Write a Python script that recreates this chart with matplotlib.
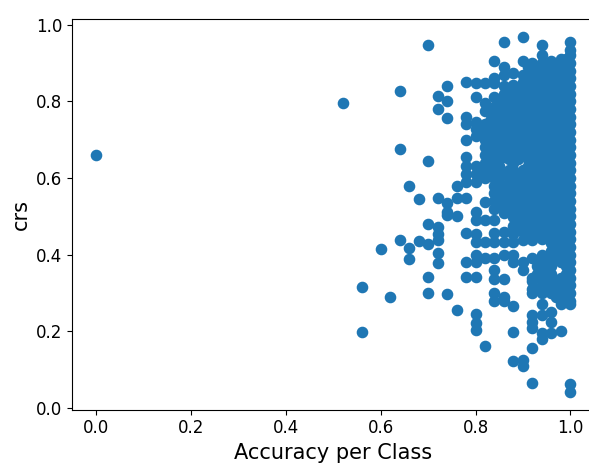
import matplotlib
matplotlib.use("Agg")
import matplotlib.pyplot as plt

# Sparse points (accuracy per class, crs)
sparse_acc = [0.00, 0.52, 0.56, 0.56, 0.60, 0.62,
              0.64, 0.64, 0.64, 0.66, 0.66, 0.66, 0.68, 0.68,
              0.70, 0.70, 0.70, 0.70, 0.70, 0.70,
              0.72, 0.72, 0.72, 0.72, 0.72, 0.72, 0.72, 0.72,
              0.74, 0.74, 0.74, 0.74, 0.74, 0.74, 0.74,
              0.76, 0.76, 0.76, 0.76]
sparse_crs = [0.66, 0.796, 0.316, 0.197, 0.415, 0.29,
              0.827, 0.675, 0.438, 0.58, 0.416, 0.388, 0.545, 0.435,
              0.947, 0.644, 0.48, 0.427, 0.342, 0.30,
              0.814, 0.78, 0.548, 0.473, 0.455, 0.438, 0.403, 0.377,
              0.841, 0.802, 0.757, 0.535, 0.512, 0.503, 0.297,
              0.579, 0.548, 0.50, 0.255]

# Dense columns: crs values observed at each accuracy level
crs_078 = [0.85, 0.76, 0.74, 0.70, 0.655, 0.63, 0.61, 0.59, 0.548, 0.457, 0.38, 0.342]
crs_080 = [0.848, 0.812, 0.745, 0.728, 0.71, 0.63, 0.61, 0.59, 0.51, 0.49, 0.455,
           0.432, 0.40, 0.38, 0.342, 0.246, 0.222, 0.203]
crs_082 = [0.848, 0.795, 0.775, 0.74, 0.72, 0.70, 0.68, 0.66, 0.64, 0.62, 0.60,
           0.538, 0.49, 0.434, 0.39, 0.16]
crs_083 = [0.77, 0.75, 0.73, 0.71, 0.69, 0.67, 0.65, 0.63, 0.61]
crs_084 = [0.906, 0.86, 0.848, 0.812, 0.785, 0.76, 0.74, 0.72, 0.70, 0.68, 0.66,
           0.64, 0.62, 0.60, 0.58, 0.56, 0.54, 0.52, 0.49, 0.456, 0.434, 0.39,
           0.36, 0.335, 0.30, 0.28]
crs_085 = [0.79, 0.77, 0.75, 0.73, 0.71, 0.69, 0.67, 0.65, 0.63, 0.61, 0.59,
           0.57, 0.55, 0.53]
crs_086 = [0.956, 0.889, 0.868, 0.84, 0.82, 0.80, 0.78, 0.76, 0.74, 0.72, 0.70,
           0.68, 0.655, 0.61, 0.575, 0.55, 0.53, 0.508, 0.46, 0.434, 0.40,
           0.335, 0.29, 0.28]
crs_087 = [0.83, 0.81, 0.79, 0.77, 0.75, 0.73, 0.71, 0.69, 0.67, 0.65, 0.62,
           0.59, 0.57, 0.55, 0.53]
crs_088 = [0.873, 0.843, 0.82, 0.80, 0.78, 0.76, 0.74, 0.72, 0.70, 0.68, 0.66,
           0.64, 0.62, 0.60, 0.58, 0.56, 0.54, 0.52, 0.499, 0.475, 0.455, 0.434,
           0.40, 0.38, 0.266, 0.197, 0.122]
crs_089 = [0.83, 0.81, 0.79, 0.77, 0.75, 0.73, 0.71, 0.69, 0.67, 0.65, 0.61,
           0.59, 0.57, 0.55, 0.53, 0.51, 0.49, 0.47]
crs_090 = [0.968, 0.906, 0.87, 0.85, 0.834, 0.81, 0.79, 0.77, 0.75, 0.73, 0.71,
           0.69, 0.665, 0.62, 0.60, 0.58, 0.56, 0.54, 0.52, 0.50, 0.48, 0.46,
           0.438, 0.38, 0.36, 0.125, 0.11]
crs_091 = [0.89, 0.87, 0.85, 0.83, 0.81, 0.79, 0.77, 0.75, 0.73, 0.71, 0.69,
           0.67, 0.65, 0.63, 0.61, 0.59, 0.57, 0.55, 0.53, 0.51, 0.49, 0.47, 0.45]
crs_092 = [0.90, 0.88, 0.86, 0.84, 0.82, 0.80, 0.78, 0.76, 0.74, 0.72, 0.70,
           0.68, 0.66, 0.64, 0.62, 0.60, 0.58, 0.56, 0.54, 0.52, 0.50, 0.48,
           0.46, 0.438, 0.39, 0.34, 0.33, 0.31, 0.30, 0.242, 0.225, 0.207,
           0.155, 0.064]
crs_093 = [0.89, 0.87, 0.85, 0.83, 0.81, 0.79, 0.77, 0.75, 0.73, 0.71, 0.69,
           0.67, 0.65, 0.63, 0.61, 0.59, 0.57, 0.55, 0.53, 0.51, 0.49, 0.47,
           0.45, 0.37, 0.35, 0.31]
crs_094 = [0.947, 0.92, 0.90, 0.88, 0.86, 0.84, 0.82, 0.80, 0.78, 0.76, 0.74,
           0.72, 0.70, 0.68, 0.66, 0.64, 0.62, 0.60, 0.58, 0.56, 0.54, 0.52,
           0.50, 0.48, 0.46, 0.44, 0.40, 0.38, 0.36, 0.33, 0.30, 0.271, 0.242,
           0.194, 0.179]
crs_095 = [0.89, 0.87, 0.85, 0.83, 0.81, 0.79, 0.77, 0.75, 0.73, 0.71, 0.69,
           0.67, 0.65, 0.63, 0.61, 0.59, 0.57, 0.55, 0.53, 0.51, 0.49, 0.47,
           0.45, 0.39, 0.37, 0.35, 0.33, 0.31]
crs_096 = [0.905, 0.89, 0.87, 0.85, 0.83, 0.81, 0.79, 0.77, 0.75, 0.73, 0.71,
           0.69, 0.67, 0.65, 0.63, 0.61, 0.59, 0.57, 0.55, 0.53, 0.51, 0.49,
           0.47, 0.45, 0.43, 0.41, 0.39, 0.37, 0.35, 0.33, 0.31, 0.30, 0.25,
           0.225, 0.194]
crs_097 = [0.89, 0.87, 0.85, 0.83, 0.81, 0.79, 0.77, 0.75, 0.73, 0.71, 0.69,
           0.67, 0.65, 0.63, 0.61, 0.59, 0.57, 0.55, 0.53, 0.51, 0.49, 0.47,
           0.45, 0.43, 0.41, 0.39, 0.33, 0.31, 0.29]
crs_098 = [0.91, 0.89, 0.87, 0.85, 0.83, 0.81, 0.79, 0.77, 0.75, 0.73, 0.71,
           0.69, 0.67, 0.65, 0.63, 0.61, 0.59, 0.57, 0.55, 0.53, 0.51, 0.49,
           0.47, 0.45, 0.43, 0.41, 0.39, 0.38, 0.34, 0.32, 0.30, 0.27, 0.20]
crs_099 = [0.91, 0.89, 0.87, 0.85, 0.83, 0.81, 0.79, 0.77, 0.75, 0.73, 0.71,
           0.69, 0.67, 0.65, 0.63, 0.61, 0.59, 0.57, 0.55, 0.53, 0.51, 0.49,
           0.47, 0.45, 0.43, 0.41, 0.39, 0.37, 0.35, 0.33, 0.31, 0.29]
crs_100 = [0.954, 0.935, 0.92, 0.90, 0.88, 0.86, 0.84, 0.82, 0.80, 0.78, 0.76,
           0.74, 0.72, 0.70, 0.68, 0.66, 0.64, 0.62, 0.60, 0.58, 0.56, 0.54,
           0.52, 0.50, 0.48, 0.46, 0.44, 0.42, 0.40, 0.38, 0.36, 0.34, 0.32,
           0.30, 0.28, 0.27, 0.063, 0.041]

dense_levels = [0.78, 0.80, 0.82, 0.83, 0.84, 0.85, 0.86, 0.87, 0.88, 0.89,
                0.90, 0.91, 0.92, 0.93, 0.94, 0.95, 0.96, 0.97, 0.98, 0.99, 1.00]
dense_columns = [crs_078, crs_080, crs_082, crs_083, crs_084, crs_085, crs_086,
                 crs_087, crs_088, crs_089, crs_090, crs_091, crs_092, crs_093,
                 crs_094, crs_095, crs_096, crs_097, crs_098, crs_099, crs_100]

acc = list(sparse_acc)
crs = list(sparse_crs)
for level, col in zip(dense_levels, dense_columns):
    acc.extend([level] * len(col))
    crs.extend(col)

fig = plt.figure(figsize=(5.89, 4.65), dpi=100)
ax = fig.add_axes([0.1227, 0.119, 0.886, 0.840])
ax.scatter(acc, crs, s=54, color="#1f77b4")
ax.set_xlim(-0.05, 1.05)
ax.set_ylim(-0.005, 1.015)
ax.set_xticks([0.0, 0.2, 0.4, 0.6, 0.8, 1.0])
ax.set_yticks([0.0, 0.2, 0.4, 0.6, 0.8, 1.0])
ax.tick_params(labelsize=12)
ax.set_xlabel("Accuracy per Class", fontsize=15)
ax.set_ylabel("crs", fontsize=15)
fig.savefig("out.png", dpi=100)
